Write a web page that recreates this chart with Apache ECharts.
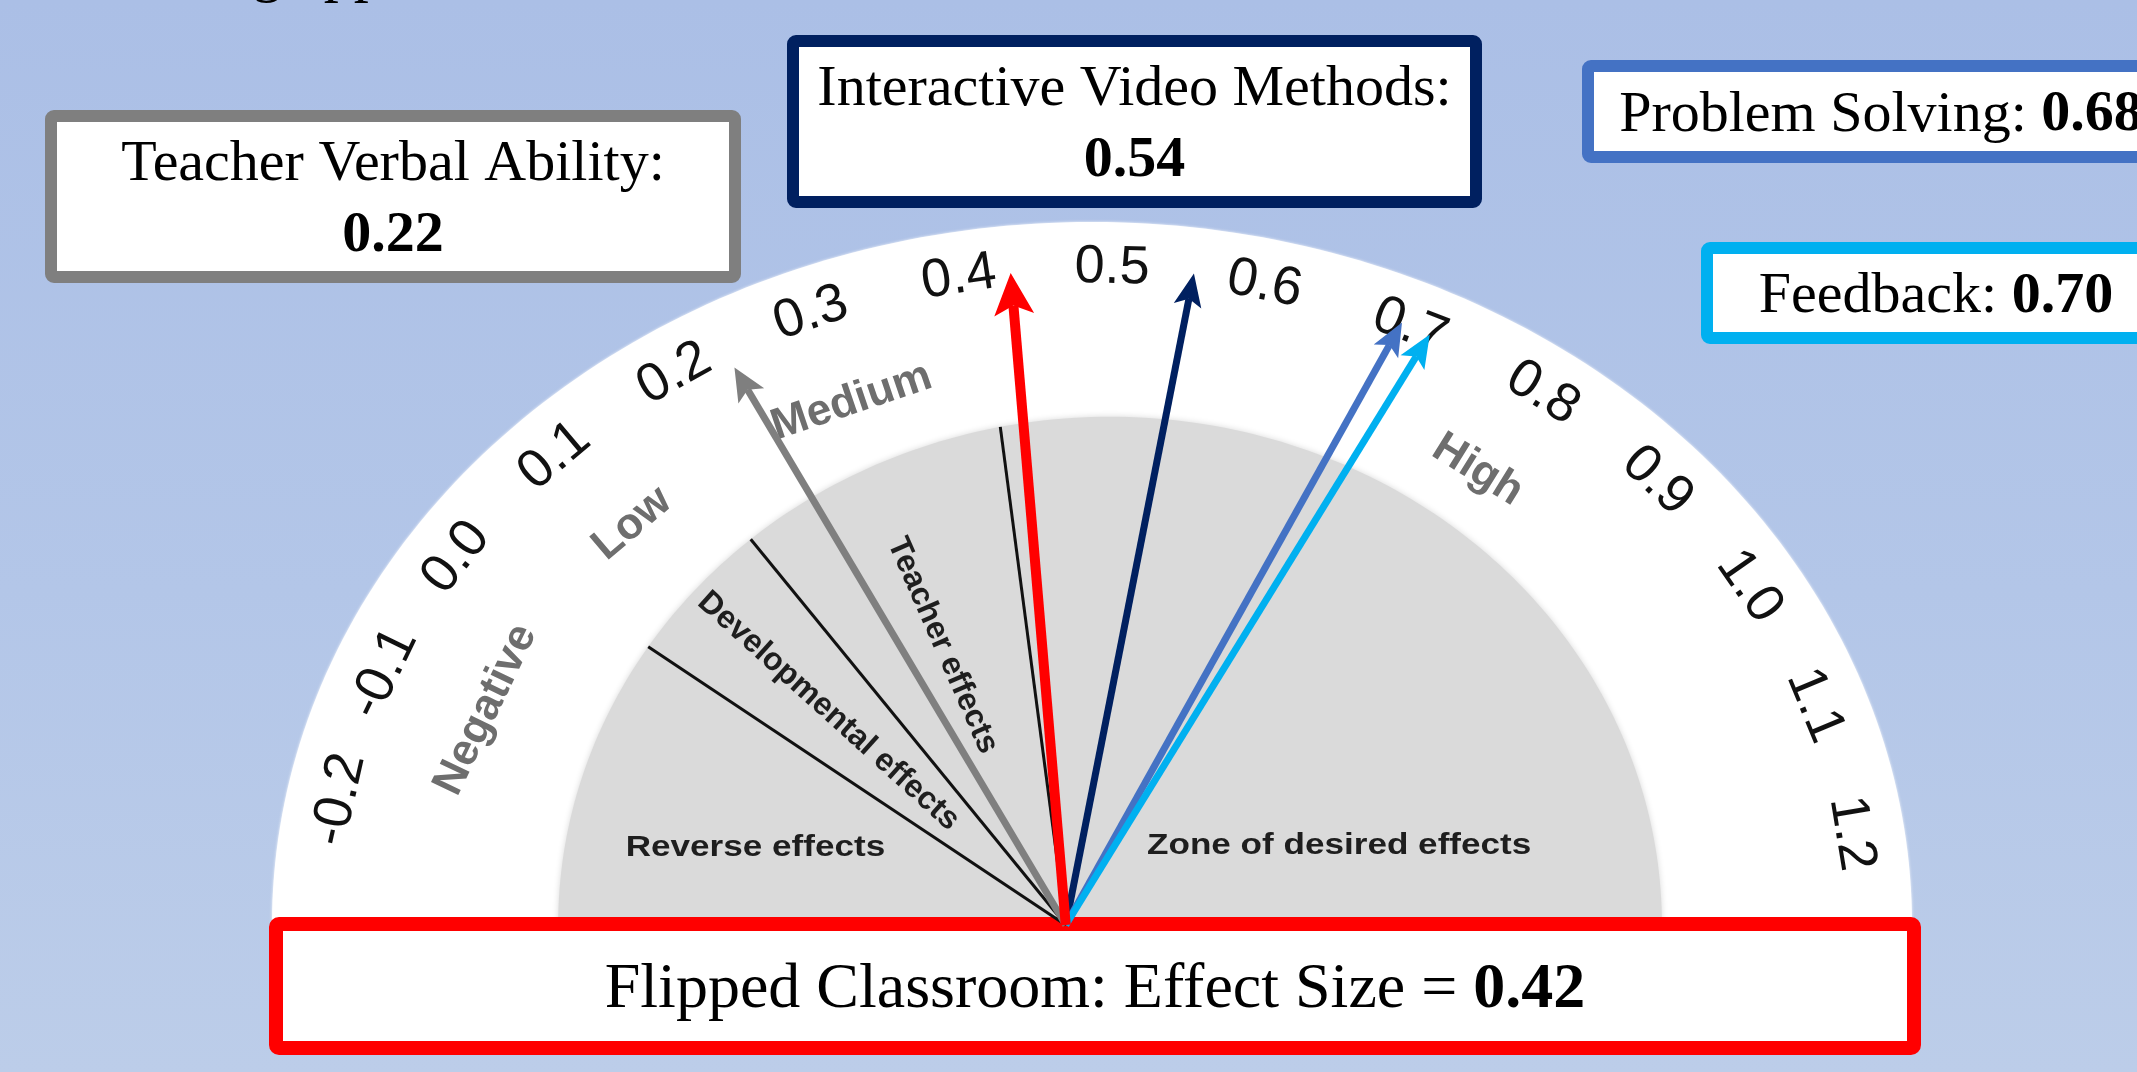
<!DOCTYPE html>
<html>
<head>
<meta charset="utf-8">
<script src="https://cdn.jsdelivr.net/npm/echarts@6/dist/echarts.min.js"></script>
<style>
  html, body { margin: 0; padding: 0; }
  #chart { width: 2137px; height: 1072px; background: linear-gradient(180deg, #ABBFE6 0%, #B3C6E8 55%, #BCCDE9 100%); }
</style>
</head>
<body>
<div id="chart"></div>
<script>
// ---- Effect sizes ----
const focusName = 'Flipped Classroom';
const focusValue = 0.42;
const influenceNames = ['Teacher Verbal Ability', 'Interactive Video Methods', 'Problem Solving', 'Feedback'];
const influenceValues = [0.22, 0.54, 0.68, 0.70];

// ---- Barometer scale ----
const scaleMin = -0.2;
const scaleMax = 1.2;
const tickValues = [-0.2, -0.1, 0.0, 0.1, 0.2, 0.3, 0.4, 0.5, 0.6, 0.7, 0.8, 0.9, 1.0, 1.1, 1.2];
const zoneNames = ['Negative', 'Low', 'Medium', 'High'];
const zoneRanges = [[-0.2, 0.0], [0.0, 0.2], [0.2, 0.4], [0.4, 1.2]];
const effectNames = ['Reverse effects', 'Developmental effects', 'Teacher effects', 'Zone of desired effects'];
const effectBounds = [-0.2, 0.0, 0.15, 0.40, 1.2];

// ---- Styling / layout ----
const titleText = 'Teaching approaches and their effect sizes [5]';
const influenceColors = ['#7F7F7F', '#002060', '#4472C4', '#00B0F0'];
const focusColor = '#FF0000';

const DEG = Math.PI / 180;
// sweep of the printed scale around the dial centre, and of the needles around their pivot
const DIAL = { start: 169, end: 8 };
const NEEDLE = { start: 165, end: 5, pivot: [-0.032, 0] };
const FACE = { cx: 0.022, rx: 0.673, ry: 0.723 };   // grey inner face
const TICK_R = 0.935;
const ZONE_R = 0.80;

const needleStyle = {
  reach: [0.89, 0.94, 0.95, 0.95, 0.93],
  width: [7, 7, 7, 7, 10],
  head: [[33, 15], [33, 14], [33, 14], [33, 14], [42, 20]]
};
const effectLabelLayout = [
  { flat: true, at: -0.19, r: 0.394 },
  { r: 0.42 },
  { r: 0.425 },
  { flat: true, at: 1.08, r: 0.352 }
];
const boxLayout = [
  { x: 45, y: 110, w: 696, h: 173, wrap: true },
  { x: 787, y: 35, w: 695, h: 173, wrap: true },
  { x: 1582, y: 60, w: 598, h: 103 },
  { x: 1701, y: 242, w: 470, h: 102 }
];
const focusBox = { x: 269, y: 917, w: 1652, h: 138 };

const SANS = '"Liberation Sans", Arial, Helvetica, sans-serif';
const SERIF = '"Liberation Serif", "Times New Roman", Times, serif';

function sweepAngle(v, sweep) {
  return (sweep.start + (v - scaleMin) / (scaleMax - scaleMin) * (sweep.end - sweep.start)) * DEG;
}
// rotation for text running clockwise along the rim at angle theta
function tangentRotation(api, theta) {
  const s = api.size([1, 1]);
  return -Math.atan2(s[1] * Math.cos(theta), s[0] * Math.sin(theta));
}
function needlePoint(v, r) {
  const th = sweepAngle(v, NEEDLE);
  return [NEEDLE.pivot[0] + r * Math.cos(th), NEEDLE.pivot[1] + r * Math.sin(th)];
}
// distance from the pivot to the edge of the grey face along a needle angle
function faceReach(th) {
  const c = Math.cos(th), s = Math.sin(th);
  const ox = NEEDLE.pivot[0] - FACE.cx;
  const A = c * c / (FACE.rx * FACE.rx) + s * s / (FACE.ry * FACE.ry);
  const B = 2 * ox * c / (FACE.rx * FACE.rx);
  const C = ox * ox / (FACE.rx * FACE.rx) - 1;
  return (-B + Math.sqrt(B * B - 4 * A * C)) / (2 * A);
}

const chart = echarts.init(document.getElementById('chart'));

// ---- Series ----
const dialSeries = {
  type: 'custom', name: 'dial', z: 1, clip: false, silent: true,
  data: [[0, 0]],
  renderItem(params, api) {
    const outer = [], face = [];
    for (let i = 0; i <= 180; i++) {
      const t = i * DEG;
      outer.push(api.coord([Math.cos(t), Math.sin(t)]));
      face.push(api.coord([FACE.cx + FACE.rx * Math.cos(t), FACE.ry * Math.sin(t)]));
    }
    return {
      type: 'group', children: [
        { type: 'polygon', shape: { points: outer }, style: { fill: '#FFFFFF', shadowBlur: 3, shadowColor: 'rgba(255,255,255,0.9)' } },
        { type: 'polygon', shape: { points: face }, style: { fill: '#DADADA', shadowBlur: 6, shadowColor: '#DADADA' } }
      ]
    };
  }
};

const boundarySeries = {
  type: 'custom', name: 'boundaries', z: 3, clip: false, silent: true,
  data: effectBounds.slice(1, -1).map(v => [v, 0]),
  renderItem(params, api) {
    const v = api.value(0);
    const th = sweepAngle(v, NEEDLE);
    const p0 = api.coord(NEEDLE.pivot);
    const p1 = api.coord(needlePoint(v, faceReach(th)));
    return { type: 'line', shape: { x1: p0[0], y1: p0[1], x2: p1[0], y2: p1[1] }, style: { stroke: '#111111', lineWidth: 3 } };
  }
};

const effectLabelSeries = {
  type: 'custom', name: 'effect zones', z: 4, clip: false, silent: true,
  data: effectNames.map((n, i) => [effectBounds[i], effectBounds[i + 1], i]),
  renderItem(params, api) {
    const i = api.value(2);
    const lay = effectLabelLayout[i];
    const text = effectNames[i];
    if (lay.flat) {
      const p = api.coord(needlePoint(lay.at, lay.r));
      return { type: 'text', x: p[0], y: p[1], scaleX: 1.17, style: { text, fill: '#1E1E1E', font: 'bold 30px ' + SANS, align: 'center', verticalAlign: 'middle' } };
    }
    const mid = (api.value(0) + api.value(1)) / 2;
    const p = api.coord(needlePoint(mid, lay.r));
    const pv = api.coord(NEEDLE.pivot);
    const rot = -Math.atan2(pv[1] - p[1], pv[0] - p[0]);
    return { type: 'text', x: p[0], y: p[1], rotation: rot, style: { text, fill: '#1E1E1E', font: 'bold 32px ' + SANS, align: 'center', verticalAlign: 'middle' } };
  }
};

const tickSeries = {
  type: 'custom', name: 'scale', z: 4, clip: false, silent: true,
  data: tickValues.map(v => [v, 0]),
  renderItem(params, api) {
    const v = api.value(0);
    const th = sweepAngle(v, DIAL);
    const p = api.coord([TICK_R * Math.cos(th), TICK_R * Math.sin(th)]);
    return { type: 'text', x: p[0], y: p[1], rotation: tangentRotation(api, th), style: { text: v.toFixed(1), fill: '#111111', font: '54px ' + SANS, align: 'center', verticalAlign: 'middle' } };
  }
};

const zoneSeries = {
  type: 'custom', name: 'zones', z: 4, clip: false, silent: true,
  data: zoneRanges.map((r, i) => [r[0], r[1], i]),
  renderItem(params, api) {
    const mid = (api.value(0) + api.value(1)) / 2;
    const th = sweepAngle(mid, DIAL);
    const p = api.coord([ZONE_R * Math.cos(th), ZONE_R * Math.sin(th)]);
    return { type: 'text', x: p[0], y: p[1], rotation: tangentRotation(api, th), style: { text: zoneNames[api.value(2)], fill: '#6E6E6E', font: 'bold 44px ' + SANS, align: 'center', verticalAlign: 'middle' } };
  }
};

const needleValues = influenceValues.concat([focusValue]);
const needleColors = influenceColors.concat([focusColor]);
const needleSeries = {
  type: 'custom', name: 'effect sizes', z: 6, clip: false, silent: true,
  data: needleValues.map((v, i) => [v, i]),
  renderItem(params, api) {
    const v = api.value(0), i = api.value(1);
    const p0 = api.coord(NEEDLE.pivot);
    const tip = api.coord(needlePoint(v, needleStyle.reach[i]));
    const dx = tip[0] - p0[0], dy = tip[1] - p0[1];
    const len = Math.hypot(dx, dy);
    const ux = dx / len, uy = dy / len, nx = -uy, ny = ux;
    const [h, w] = needleStyle.head[i];
    const notch = h * 0.22;
    const bx = tip[0] - ux * h, by = tip[1] - uy * h;
    const color = needleColors[i];
    return {
      type: 'group', children: [
        { type: 'line', shape: { x1: p0[0], y1: p0[1], x2: tip[0] - ux * (h - notch), y2: tip[1] - uy * (h - notch) }, style: { stroke: color, lineWidth: needleStyle.width[i] } },
        { type: 'polygon', shape: { points: [tip, [bx + nx * w, by + ny * w], [tip[0] - ux * (h - notch), tip[1] - uy * (h - notch)], [bx - nx * w, by - ny * w]] }, style: { fill: color } }
      ]
    };
  }
};

// ---- Value boxes ----
function valueBox(lay, color, text, fontSize, lineWidth, z) {
  const lw = lineWidth;
  return [
    { type: 'rect', z, shape: { x: lay.x + lw / 2, y: lay.y + lw / 2, width: lay.w - lw, height: lay.h - lw, r: 3 }, style: { fill: '#FFFFFF', stroke: color, lineWidth: lw } },
    {
      type: 'text', z: z + 1, x: lay.x + lay.w / 2, y: lay.y + lay.h / 2 + 4,
      style: {
        text, fill: '#000000', fontSize, fontFamily: SERIF, align: 'center', verticalAlign: 'middle', lineHeight: 71,
        rich: { b: { fontWeight: 'bold', fontSize, fontFamily: SERIF, fill: '#000000', lineHeight: 71 } }
      }
    }
  ];
}
const graphics = [
  { type: 'text', z: 2, x: 63, y: -26, style: { text: titleText, fill: '#000000', fontSize: 60, fontFamily: SERIF, align: 'left', verticalAlign: 'middle' } }
];
influenceNames.forEach((name, i) => {
  const lay = boxLayout[i];
  const val = influenceValues[i].toFixed(2);
  const text = lay.wrap ? name + ':\n{b|' + val + '}' : name + ': {b|' + val + '}';
  graphics.push(...valueBox(lay, influenceColors[i], text, 58, 12, 2));
});
graphics.push(...valueBox(focusBox, focusColor, focusName + ': Effect Size = {b|' + focusValue.toFixed(2) + '}', 64, 14, 2));

chart.setOption({
  animation: false,
  backgroundColor: 'transparent',
  grid: { left: 272, right: 225, top: 222, bottom: 147, containLabel: false },
  xAxis: { type: 'value', min: -1, max: 1, show: false },
  yAxis: { type: 'value', min: 0, max: 1, show: false },
  graphic: { elements: graphics },
  series: [dialSeries, boundarySeries, effectLabelSeries, tickSeries, zoneSeries, needleSeries]
});
</script>
</body>
</html>
